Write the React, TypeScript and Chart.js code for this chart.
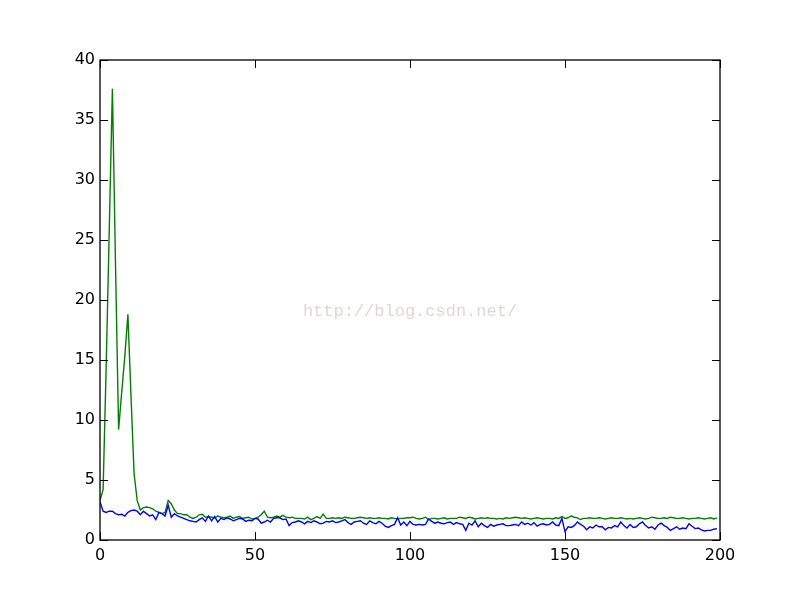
import React, { useEffect, useRef } from "react";
import { Chart, registerables } from "chart.js";

Chart.register(...registerables);

const greenValues: number[] = [
  3.3, 4.2, 14.5, 26, 37.6, 23, 9.2, 12.3, 15.3, 18.8,
  12, 5.5, 3.3, 2.5, 2.7, 2.75, 2.7, 2.6, 2.4, 2.3,
  2.2, 2.3, 3.3, 3.0, 2.5, 2.2, 2.2, 2.1, 2.1, 1.9,
  1.8, 1.9, 2.1, 2.15, 1.9, 1.95, 1.9, 1.85, 2.0, 1.9,
  1.85, 1.9, 2.0, 1.8, 1.9, 1.95, 1.8, 1.85, 1.9, 1.75,
  1.8, 1.9, 2.1, 2.4, 1.9, 1.85, 1.9, 2.0, 1.9, 2.05,
  1.9, 1.85, 1.9, 1.8, 1.8, 1.8, 1.75, 1.9, 1.7, 1.8,
  1.95, 1.8, 2.15, 1.8, 1.8, 1.85, 1.8, 1.85, 1.8, 1.9,
  1.85, 1.8, 1.8, 1.85, 1.9, 1.85, 1.8, 1.85, 1.8, 1.8,
  1.85, 1.8, 1.8, 1.75, 1.85, 1.8, 1.75, 1.8, 1.8, 1.85,
  1.85, 1.9, 1.8, 1.75, 1.8, 1.9, 1.7, 1.8, 1.8, 1.75,
  1.8, 1.85, 1.75, 1.8, 1.8, 1.8, 1.9, 1.85, 1.8, 1.9,
  1.85, 1.75, 1.8, 1.85, 1.8, 1.85, 1.8, 1.8, 1.75, 1.8,
  1.75, 1.85, 1.8, 1.85, 1.9, 1.85, 1.8, 1.85, 1.8, 1.75,
  1.8, 1.85, 1.8, 1.75, 1.8, 1.8, 1.75, 1.85, 1.8, 1.95,
  1.8, 1.85, 2.0, 1.9, 1.85, 1.7, 1.8, 1.8, 1.85, 1.8,
  1.8, 1.85, 1.8, 1.75, 1.8, 1.85, 1.8, 1.8, 1.85, 1.8,
  1.75, 1.8, 1.75, 1.8, 1.85, 1.8, 1.75, 1.8, 1.9, 1.85,
  1.8, 1.8, 1.85, 1.8, 1.9, 1.85, 1.8, 1.8, 1.85, 1.8,
  1.75, 1.8, 1.8, 1.85, 1.8, 1.75, 1.8, 1.85, 1.75, 1.85,
];

const blueValues: number[] = [
  3.2, 2.4, 2.3, 2.4, 2.4, 2.2, 2.1, 2.15, 2.0, 2.3,
  2.45, 2.5, 2.4, 2.1, 2.4, 2.2, 2.0, 2.1, 1.7, 2.3,
  2.2, 2.0, 2.9, 1.9, 2.2, 2.0, 1.9, 1.8, 1.7, 1.6,
  1.55, 1.5, 1.7, 1.85, 1.55, 2.0, 1.6, 1.95, 1.5, 1.8,
  1.7, 1.85, 1.75, 1.6, 1.7, 1.8, 1.75, 1.55, 1.65, 1.6,
  1.8, 1.75, 1.4, 1.5, 1.65, 1.5, 1.8, 1.85, 1.85, 1.7,
  1.75, 1.2, 1.45, 1.5, 1.6, 1.5, 1.35, 1.55, 1.45, 1.6,
  1.5, 1.35, 1.4, 1.55, 1.5, 1.6, 1.45, 1.5, 1.6, 1.7,
  1.45, 1.3, 1.5, 1.55, 1.6, 1.4, 1.3, 1.6, 1.45, 1.35,
  1.55, 1.4, 1.15, 1.05, 1.2, 1.3, 1.85, 1.25, 1.5, 1.2,
  1.55, 1.3, 1.25, 1.3, 1.25, 1.3, 1.75, 1.55, 1.4, 1.5,
  1.4, 1.35, 1.45, 1.5, 1.3, 1.45, 1.35, 1.3, 0.8, 1.4,
  1.25, 1.6, 1.1, 1.4, 1.2, 1.05, 1.3, 1.15, 1.25, 1.3,
  1.35, 1.2, 1.2, 1.25, 1.3, 1.2, 1.5, 1.3, 1.4, 1.25,
  1.45, 1.15, 1.3, 1.35, 1.25, 1.3, 1.5, 1.25, 1.2, 1.8,
  0.7, 1.1, 1.05, 1.2, 1.5, 1.3, 1.15, 0.85, 1.1, 1.0,
  1.25, 1.1, 1.1, 0.85, 1.05, 1.0, 1.2, 1.1, 1.5, 1.2,
  1.0, 1.3, 1.05, 1.1, 1.35, 1.5, 1.2, 1.0, 1.1, 0.9,
  1.25, 1.4, 1.2, 1.05, 0.8, 0.95, 1.1, 0.9, 1.0, 0.95,
  1.35, 1.15, 0.95, 1.0, 0.85, 0.75, 0.8, 0.8, 0.9, 0.95,
];

const xTickStep = 50;
const yTickStep = 5;
const watermark = "http://blog.csdn.net/";

const framePlugin = {
  id: "mplFrame",
  afterDraw(chart: any) {
    const { ctx, chartArea } = chart;
    const { left, right, top, bottom } = chartArea;
    const xs = chart.scales.x;
    const ys = chart.scales.y;
    ctx.save();
    // watermark
    ctx.fillStyle = "#dcd8d2";
    ctx.font = "17px 'Liberation Mono', monospace";
    ctx.textAlign = "center";
    ctx.textBaseline = "middle";
    ctx.fillText(watermark, (left + right) / 2, (top + bottom) / 2 + 11);
    // ticks inward
    ctx.strokeStyle = "#000";
    ctx.lineWidth = 1;
    const len = 8;
    ctx.beginPath();
    xs.ticks.forEach((t: any) => {
      const px = Math.round(xs.getPixelForValue(t.value)) + 0.5;
      ctx.moveTo(px, bottom);
      ctx.lineTo(px, bottom - len);
      ctx.moveTo(px, top);
      ctx.lineTo(px, top + len);
    });
    ys.ticks.forEach((t: any) => {
      const py = Math.round(ys.getPixelForValue(t.value)) + 0.5;
      ctx.moveTo(left, py);
      ctx.lineTo(left + len, py);
      ctx.moveTo(right, py);
      ctx.lineTo(right - len, py);
    });
    ctx.stroke();
    ctx.lineWidth = 1.3;
    ctx.strokeRect(left, top, right - left, bottom - top);
    ctx.restore();
  },
};

export default function App() {
  const ref = useRef<HTMLCanvasElement | null>(null);
  useEffect(() => {
    if (!ref.current) return;
    const chart = new Chart(ref.current, {
      type: "line",
      data: {
        datasets: [
          {
            label: "blue",
            data: blueValues.map((v, i) => ({ x: i, y: v })),
            borderColor: "#0000ff",
            borderWidth: 1.4,
            pointRadius: 0,
            tension: 0,
            fill: false,
          },
          {
            label: "green",
            data: greenValues.map((v, i) => ({ x: i, y: v })),
            borderColor: "#008000",
            borderWidth: 1.4,
            pointRadius: 0,
            tension: 0,
            fill: false,
          },
        ],
      },
      options: {
        responsive: false,
        animation: false,
        layout: { padding: { left: 60, right: 80, top: 60, bottom: 30 } },
        plugins: {
          legend: { display: false },
          tooltip: { enabled: false },
        },
        scales: {
          x: {
            type: "linear",
            min: 0,
            max: 200,
            grid: { display: false, drawTicks: false },
            border: { display: false },
            ticks: {
              stepSize: xTickStep,
              padding: 6,
              color: "#000",
              font: { family: "'DejaVu Sans', sans-serif", size: 16 },
              maxRotation: 0,
            },
            afterFit: (s: any) => {
              s.height = 30;
            },
          },
          y: {
            type: "linear",
            min: 0,
            max: 40,
            grid: { display: false, drawTicks: false },
            border: { display: false },
            ticks: {
              stepSize: yTickStep,
              padding: 5,
              color: "#000",
              font: { family: "'DejaVu Sans', sans-serif", size: 16 },
            },
            afterFit: (s: any) => {
              s.width = 40;
            },
          },
        },
      },
      plugins: [framePlugin],
    });
    return () => chart.destroy();
  }, []);
  return (
    <div style={{ position: "absolute", left: 0, top: 0, width: 800, height: 600, background: "#fff" }}>
      <canvas ref={ref} width={800} height={600} />
    </div>
  );
}
